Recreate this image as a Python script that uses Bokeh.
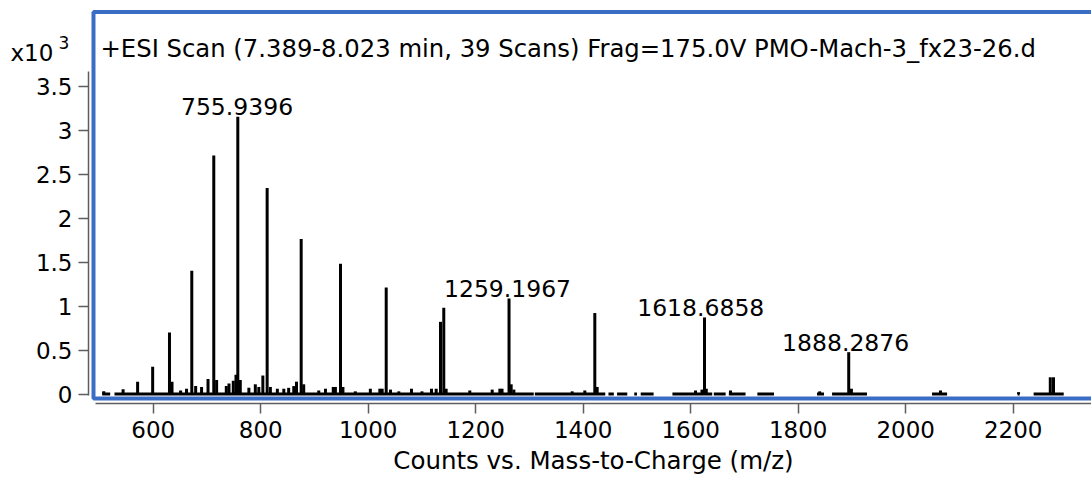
from bokeh.plotting import figure
from bokeh.models import Range1d, BoxAnnotation, Label, ColumnDataSource, FixedTicker
from bokeh.core.properties import value
from bokeh.embed import file_html
from bokeh.resources import INLINE

# ---- data (intensity in x10^3 counts) ----
peak_mz = [508, 544, 571, 599, 630.3, 635, 651, 662, 671.8, 679, 690, 702, 712.7, 718,
           736, 741, 749, 754, 757.4, 762, 778, 790, 796.5, 804, 812, 818, 831, 843,
           852, 861.5, 866.6, 875.3, 880, 908, 920.5, 935, 939, 948.5, 953, 976,
           1004, 1021.6, 1026, 1033.5, 1041.5, 1057, 1080.5, 1100, 1117.8, 1126.5,
           1134.5, 1140.6, 1145, 1189, 1230.7, 1244.9, 1249, 1262, 1266, 1271,
           1379.5, 1403, 1421.6, 1426, 1609, 1621, 1625.7, 1629, 1674, 1840,
           1894, 1899, 2064.7, 2210, 2269, 2275]
peak_int = [0.03, 0.055, 0.14, 0.31, 0.70, 0.14, 0.04, 0.06, 1.40, 0.09, 0.08, 0.17, 2.71, 0.16,
            0.09, 0.12, 0.15, 0.22, 3.15, 0.16, 0.07, 0.11, 0.08, 0.21, 2.34, 0.08, 0.06, 0.06,
            0.07, 0.09, 0.14, 1.76, 0.11, 0.04, 0.06, 0.08, 0.08, 1.48, 0.08, 0.03,
            0.06, 0.06, 0.06, 1.21, 0.05, 0.03, 0.06, 0.03, 0.06, 0.06,
            0.82, 0.98, 0.06, 0.04, 0.05, 0.06, 0.06, 1.085, 0.11, 0.05,
            0.03, 0.04, 0.92, 0.08, 0.04, 0.05, 0.87, 0.06, 0.04, 0.03,
            0.475, 0.06, 0.04, 0.02, 0.19, 0.19]

# m/z ranges where the noise baseline is recorded
base_start = [505, 528, 1310, 1447, 1463, 1495, 1507, 1566, 1643, 1671, 1724, 1835, 1863, 2049, 2208, 2238]
base_end = [520, 1308, 1441, 1457, 1482, 1500, 1531, 1640, 1665, 1702, 1755, 1848, 1928, 2077, 2212, 2294]

label_mz = [755.9396, 1259.1967, 1618.6858, 1888.2876]
label_int = [3.15, 1.085, 0.87, 0.475]
label_text = ["755.9396", "1259.1967", "1618.6858", "1888.2876"]

x_ticks = [600, 800, 1000, 1200, 1400, 1600, 1800, 2000, 2200]
y_ticks = [0, 0.5, 1, 1.5, 2, 2.5, 3, 3.5]
y_tick_labels = ["0", "0.5", "1", "1.5", "2", "2.5", "3", "3.5"]

title_text = "+ESI Scan (7.389-8.023 min, 39 Scans) Frag=175.0V PMO-Mach-3_fx23-26.d"
x_label = "Counts vs. Mass-to-Charge (m/z)"

# ---- layout (pixels) ----
W, H = 1091, 483
PX_X600, PX_PER_MZ = 152.7, 0.5375      # where m/z 600 sits, px per m/z unit
PX_Y0, PX_PER_K = 393.5, 88.0           # where intensity 0 sits, px per 1e3 counts
AXIS_X_PX, AXIS_Y_PX = 88, 403          # y-axis line x, x-axis line y
BOX_L, BOX_T, BOX_B = 93, 11.5, 398     # blue frame edges


def mz_at(px):
    return 600 + (px - PX_X600) / PX_PER_MZ


def val_at(py):
    return (PX_Y0 - py) / PX_PER_K


FONT = "DejaVu Sans"
AX = "#5e5e5e"

p = figure(width=W, height=H, output_backend="svg", toolbar_location=None,
           x_range=Range1d(mz_at(0), mz_at(W)), y_range=Range1d(val_at(H), val_at(0)),
           min_border=0, min_border_left=0, min_border_right=0,
           min_border_top=0, min_border_bottom=0)
p.grid.visible = False
p.outline_line_color = None
p.background_fill_color = "white"
p.border_fill_color = "white"

# blue frame
p.add_layout(BoxAnnotation(left=mz_at(BOX_L), right=mz_at(W + 40), bottom=val_at(BOX_B),
                           top=val_at(BOX_T), fill_alpha=0, line_color="#3a6ec6",
                           line_alpha=1.0, line_width=4, level="overlay"))

# baseline
p.segment(x0=base_start, x1=base_end, y0=[0] * len(base_start), y1=[0] * len(base_start),
          line_color="black", line_width=3)
# peaks
p.segment(x0=peak_mz, x1=peak_mz, y0=[0] * len(peak_mz), y1=peak_int,
          line_color="black", line_width=3)

# peak labels
src = ColumnDataSource(dict(x=label_mz, y=label_int, t=label_text))
p.text(x="x", y="y", text="t", source=src, text_font=value(FONT), text_font_size="23.5px",
       text_align="center", text_baseline="alphabetic", y_offset=-10, text_color="black")

# axes
xa = p.xaxis[0]
xa.fixed_location = val_at(AXIS_Y_PX)
xa.ticker = FixedTicker(ticks=x_ticks)
xa.bounds = (mz_at(95), mz_at(W + 5))
xa.axis_label = x_label
xa.axis_label_text_font = FONT
xa.axis_label_text_font_size = "24.5px"
xa.axis_label_text_font_style = "normal"
xa.axis_label_text_color = "black"
xa.axis_label_standoff = 5
xa.major_label_text_font = FONT
xa.major_label_text_font_size = "23px"
xa.major_label_text_color = "black"
xa.major_label_standoff = 7
xa.major_tick_out = 10
xa.major_tick_in = 0
xa.minor_tick_out = 0
xa.minor_tick_in = 0
xa.axis_line_color = AX
xa.axis_line_width = 1.5
xa.major_tick_line_color = AX
xa.major_tick_line_width = 1.5

ya = p.yaxis[0]
ya.fixed_location = mz_at(AXIS_X_PX)
ya.ticker = FixedTicker(ticks=y_ticks)
ya.bounds = (val_at(395), val_at(71))
ya.major_label_overrides = {t: s for t, s in zip(y_ticks, y_tick_labels)}
ya.major_label_text_font = FONT
ya.major_label_text_font_size = "23px"
ya.major_label_text_color = "black"
ya.major_label_standoff = 6
ya.major_tick_out = 10
ya.major_tick_in = 0
ya.minor_tick_out = 0
ya.minor_tick_in = 0
ya.axis_line_color = AX
ya.axis_line_width = 1.5
ya.major_tick_line_color = AX
ya.major_tick_line_width = 1.5

# title and multiplier (screen units measured from the frame's bottom-left)
p.add_layout(Label(x=100, y=H - 48, x_units="screen", y_units="screen", text=title_text,
                   text_font=FONT, text_font_size="24.3px", text_baseline="alphabetic",
                   text_color="black"))
p.add_layout(Label(x=10, y=H - 52, x_units="screen", y_units="screen", text="x10",
                   text_font=FONT, text_font_size="23px", text_baseline="alphabetic",
                   text_color="black"))
p.add_layout(Label(x=58, y=H - 42, x_units="screen", y_units="screen", text="3",
                   text_font=FONT, text_font_size="17px", text_baseline="alphabetic",
                   text_color="black"))

open("out.html", "w").write(file_html(p, INLINE))
